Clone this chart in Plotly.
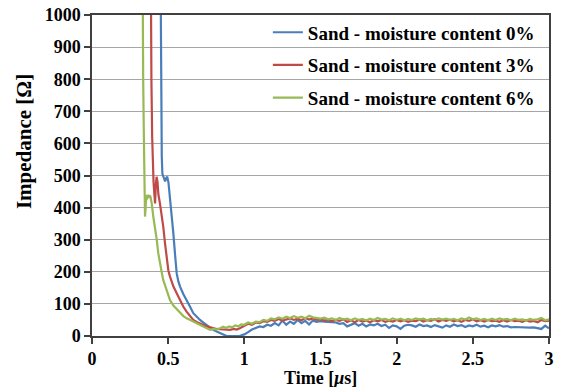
import plotly.graph_objects as go

# ---------------- data ----------------
tail_t = [round(1.0 + 0.025 * i, 3) for i in range(81)]

t0_head = [0.445, 0.450, 0.455, 0.458, 0.462, 0.468, 0.474, 0.480, 0.487, 0.494, 0.502,
           0.512, 0.523, 0.534, 0.545, 0.556, 0.567, 0.578, 0.600, 0.622, 0.643, 0.665,
           0.687, 0.709, 0.731, 0.753, 0.775, 0.796, 0.818, 0.840, 0.862, 0.884, 0.906,
           0.928, 0.950, 0.970, 0.985]
z0_head = [1500, 1000, 700, 560, 505, 498, 486, 482, 492, 496, 478,
           434, 380, 320, 255, 195, 170, 154, 130, 112, 92, 71,
           60, 50, 42, 34, 26, 19, 14, 9, 4, 0, 0,
           0, 2, 0, 3]
z0_tail = [5, 12, 20, 25, 30, 28, 35, 32, 40, 33, 48, 35, 45, 38, 50, 40, 47, 36, 48, 44,
           46, 45, 44, 45, 42, 38, 40, 30, 36, 40, 32, 38, 30, 36, 33, 38, 31, 35, 25, 33,
           30, 22, 32, 35, 33, 29, 36, 31, 33, 28, 34, 30, 26, 33, 29, 36, 31, 34, 28, 33,
           30, 35, 29, 32, 27, 33, 30, 34, 29, 31, 27, 28, 27, 26, 27, 26, 27, 25, 22, 32, 24]

t3_head = [0.382, 0.386, 0.390, 0.395, 0.400, 0.404, 0.409, 0.414, 0.419, 0.424, 0.430,
           0.436, 0.446, 0.457, 0.468, 0.479, 0.490, 0.501, 0.512, 0.534, 0.556, 0.578,
           0.600, 0.622, 0.643, 0.665, 0.687, 0.709, 0.731, 0.753, 0.775, 0.796, 0.818,
           0.840, 0.862, 0.884, 0.906, 0.930, 0.950, 0.970, 0.985]
z3_head = [1500, 1000, 800, 620, 510, 480, 445, 413, 470, 496, 480,
           440, 413, 380, 340, 290, 237, 205, 185, 155, 133, 110,
           91, 75, 62, 50, 44, 38, 34, 30, 27, 24, 22,
           21, 20, 19, 19, 22, 20, 24, 28]
z3_tail = [30, 38, 35, 42, 40, 46, 44, 50, 47, 53, 48, 52, 55, 50, 54, 49, 56, 51, 55, 50,
           52, 48, 51, 46, 50, 47, 52, 44, 49, 43, 50, 45, 48, 43, 49, 46, 50, 44, 48, 45,
           50, 46, 49, 44, 48, 46, 51, 45, 49, 47, 52, 45, 50, 47, 51, 46, 49, 44, 50, 47,
           52, 46, 49, 45, 50, 46, 48, 44, 49, 45, 50, 46, 48, 44, 49, 45, 47, 43, 50, 46, 48]

t6_head = [0.328, 0.332, 0.336, 0.340, 0.344, 0.348, 0.352, 0.356, 0.360, 0.366, 0.372,
           0.378, 0.384, 0.392, 0.403, 0.414, 0.425, 0.435, 0.446, 0.457, 0.468, 0.490,
           0.512, 0.534, 0.556, 0.578, 0.600, 0.622, 0.643, 0.665, 0.687, 0.709, 0.731,
           0.753, 0.775, 0.796, 0.818, 0.840, 0.862, 0.880, 0.900, 0.920, 0.940, 0.960, 0.980]
z6_head = [1500, 1000, 800, 640, 500, 372, 400, 439, 425, 440, 430,
           438, 434, 413, 370, 340, 300, 258, 225, 200, 174, 140,
           112, 95, 84, 71, 62, 55, 50, 45, 40, 34, 28,
           24, 19, 22, 20, 24, 29, 25, 30, 27, 33, 30, 36]
z6_tail = [35, 42, 38, 45, 43, 50, 47, 55, 52, 58, 54, 60, 56, 62, 57, 60, 55, 63, 58, 56,
           54, 57, 52, 55, 50, 56, 51, 54, 49, 55, 50, 53, 48, 54, 50, 56, 51, 53, 49, 55,
           50, 54, 49, 53, 50, 55, 51, 54, 49, 53, 50, 55, 51, 54, 50, 53, 49, 55, 51, 58,
           52, 55, 50, 53, 49, 54, 50, 55, 51, 53, 49, 54, 50, 52, 48, 53, 50, 52, 56, 49, 52]

series_names = ["Sand - moisture content 0%",
                "Sand - moisture content 3%",
                "Sand - moisture content 6%"]
series_colors = ["#4a7ebb", "#be4b48", "#98b954"]

x_ticks = [0, 0.5, 1, 1.5, 2, 2.5, 3]
y_ticks = list(range(0, 1001, 100))

# ---------------- figure ----------------
FONT = "Liberation Serif"
fig = go.Figure()
series = [(t0_head + tail_t, z0_head + z0_tail),
          (t3_head + tail_t, z3_head + z3_tail),
          (t6_head + tail_t, z6_head + z6_tail)]
for (tx, zy), name, col in zip(series, series_names, series_colors):
    fig.add_trace(go.Scatter(x=tx, y=zy, mode="lines", name="<b>" + name + "</b>",
                             line=dict(color=col, width=2.2), legendgroup=name))

fig.update_layout(
    width=562, height=387,
    margin=dict(l=92, r=13, t=15, b=51, autoexpand=False),
    paper_bgcolor="white", plot_bgcolor="white",
    font=dict(family=FONT, size=18, color="black"),
    showlegend=True,
    legend=dict(x=0.98, y=1.005, xanchor="right", yanchor="top",
                bgcolor="rgba(0,0,0,0)", borderwidth=0,
                font=dict(family=FONT, size=19, color="black"),
                tracegroupgap=5, itemwidth=30),
    xaxis=dict(range=[0, 3], tickvals=x_ticks,
               ticktext=["<b>%s</b>" % v for v in x_ticks],
               showgrid=False, zeroline=False, automargin=False,
               showline=True, linecolor="#404040", linewidth=1.5, mirror=True,
               ticks="outside", ticklen=6, tickcolor="#404040", tickwidth=1.5,
               tickfont=dict(family=FONT, size=18)),
    yaxis=dict(range=[0, 1000], tickvals=y_ticks,
               ticktext=["<b>%s</b>" % v for v in y_ticks],
               showgrid=True, gridcolor="#a6a6a6", gridwidth=1, zeroline=False,
               automargin=False,
               showline=True, linecolor="#404040", linewidth=1.5, mirror=True,
               ticks="outside", ticklen=6, tickcolor="#404040", tickwidth=1.5,
               tickfont=dict(family=FONT, size=18)),
    annotations=[
        dict(text="<b>Time [<i>μ</i>s]</b>", xref="paper", yref="paper", x=0.5, y=-0.095,
             xanchor="center", yanchor="top", showarrow=False,
             font=dict(family=FONT, size=18)),
        dict(text="<b>Impedance [Ω]</b>", xref="paper", yref="paper", x=-0.149, y=0.607,
             xanchor="center", yanchor="middle", textangle=-90, showarrow=False,
             font=dict(family=FONT, size=21)),
    ],
)

fig.write_html("out.html")
